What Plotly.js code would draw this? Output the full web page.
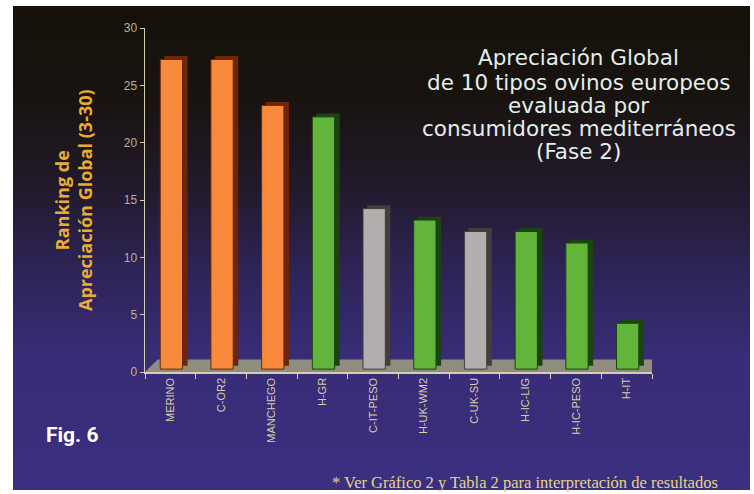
<!DOCTYPE html>
<html><head><meta charset="utf-8">
<script src="https://cdn.plot.ly/plotly-3.0.1.min.js"></script>
<style>
html,body{margin:0;padding:0;background:#fff;width:754px;height:494px;overflow:hidden;}
#bg{position:absolute;left:13px;top:6px;width:737px;height:484px;
background:linear-gradient(to bottom,#15110a 0%,#18130e 18%,#221a2c 38%,#2e2458 55%,#382c76 72%,#3b2f80 100%);}
#chart{position:absolute;left:0;top:0;width:754px;height:494px;}
</style></head><body>
<div id="bg"></div>
<div id="chart"></div>
<script>
const categories = ["MERINO","C-OR2","MANCHEGO","H-GR","C-IT-PESO","H-UK-WM2","C-UK-SU","H-IC-LIG","H-IC-PESO","H-IT"];
const ranking = [27, 27, 23, 22, 14, 13, 12, 12, 11, 4];
const groups = ["orange","orange","orange","green","gray","green","gray","green","green","green"];
const titleLines = ["Apreciación Global","de 10 tipos ovinos europeos","evaluada por","consumidores mediterráneos","(Fase 2)"];

const frontColor = {orange:"#f98a3c", green:"#62b43a", gray:"#b3aeae"};
const sideColor = {orange:"#6e2606", green:"#1b4410", gray:"#453c3c"};

const shadow = {
  type:"bar", x:categories, y:ranking, base:0.55,
  offset:-0.12, width:0.46,
  marker:{color:groups.map(g=>sideColor[g]), line:{width:0}},
  hoverinfo:"skip"
};
const front = {
  type:"bar", x:categories, y:ranking, base:0.25,
  offset:-0.2, width:0.44,
  marker:{color:groups.map(g=>frontColor[g]), line:{width:1, color:groups.map(g=>sideColor[g])}},
};

const axisCol = "#d6ceb0";
const tickCol = "#b8b09a";
const titleY = [0.913, 0.843, 0.776, 0.709, 0.640];
const annotations = [
  {xref:"paper", yref:"paper", x:-0.142, y:0.5, xanchor:"center", yanchor:"middle", textangle:-90,
   text:"<b>Ranking de<br>Apreciación Global (3-30)</b>", showarrow:false,
   font:{family:"Open Sans, DejaVu Sans", size:18, color:"#e9ac36"}},
  {xref:"paper", yref:"paper", x:-0.144, y:-0.183, xanchor:"center", yanchor:"middle",
   text:"<b>Fig. 6</b>", showarrow:false, font:{family:"Roboto, Open Sans", size:21, color:"#ffffff"}},
  {xref:"paper", yref:"paper", x:0.75, y:-0.32, xanchor:"center", yanchor:"middle",
   text:"* Ver Gráfico 2 y Tabla 2 para interpretación de resultados", showarrow:false,
   font:{family:"Liberation Serif, serif", size:16.5, color:"#e6d488"}}
].concat(titleLines.map((t,i)=>({xref:"paper", yref:"paper", x:0.856, y:titleY[i],
   xanchor:"center", yanchor:"middle", text:t, showarrow:false,
   font:{family:"DejaVu Sans", size:21.5, color:"#e2eeec"}})));

const layout = {
  width:754, height:494,
  paper_bgcolor:"rgba(0,0,0,0)", plot_bgcolor:"rgba(0,0,0,0)",
  margin:{l:145, r:102, t:28, b:122},
  barmode:"overlay", showlegend:false,
  xaxis:{type:"category", range:[-0.5,9.5], showline:true, linecolor:axisCol, linewidth:1.5,
    ticks:"outside", ticklen:5, tickcolor:axisCol, tickson:"boundaries", showgrid:false,
    tickangle:-90, tickfont:{family:"Liberation Sans, Arial", size:11, color:"#d8cfa8"}, zeroline:false},
  yaxis:{range:[0,30], dtick:5, showline:true, linecolor:axisCol, linewidth:1.5,
    ticks:"outside", ticklen:4, tickcolor:axisCol, showgrid:false, zeroline:false,
    tickfont:{family:"Liberation Sans, Arial", size:12, color:tickCol}},
  shapes:[{type:"path", xref:"x", yref:"y", layer:"below",
    path:"M -0.5,0 L 9.5,0 L 9.75,1.1 L -0.25,1.1 Z",
    fillcolor:"#8f8d80", line:{width:0}}],
  annotations:annotations
};
Plotly.newPlot("chart",[shadow, front], layout, {staticPlot:true});
</script>
</body></html>
